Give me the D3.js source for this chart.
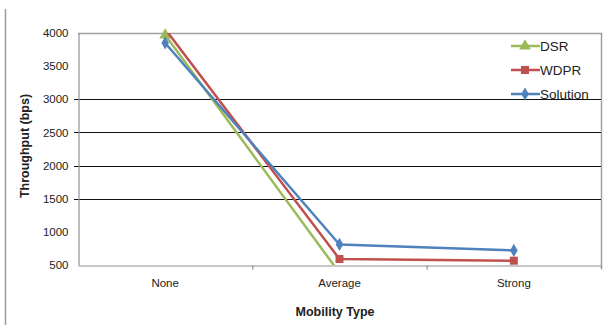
<!DOCTYPE html>
<html>
<head>
<meta charset="utf-8">
<script src="https://cdn.jsdelivr.net/npm/d3@7"></script>
<style>
  html, body { margin: 0; padding: 0; background: #fff; }
  svg { display: block; font-family: "Liberation Sans", Arial, sans-serif; }
</style>
</head>
<body>
<svg id="chart" width="607" height="325"></svg>
<script>
// Throughput per mobility type for three routing protocols
const categories = ["None", "Average", "Strong"];
const seriesNames = ["DSR", "WDPR", "Solution"];
const dsrValues = [3970, 380, 380];
const wdprValues = [4060, 590, 565];
const solutionValues = [3850, 810, 720];
const yTicks = [500, 1000, 1500, 2000, 2500, 3000, 3500, 4000];
const gridValues = [1500, 2000, 2500, 3000];

const seriesColors = ["#9BBB59", "#C0504D", "#4F81BD"];
const seriesSymbols = [d3.symbolTriangle, d3.symbolSquare, d3.symbolDiamond];
const seriesSizes = [60, 64, 50];
const series = [dsrValues, wdprValues, solutionValues].map((values, i) => ({
  name: seriesNames[i], values, color: seriesColors[i],
  symbol: seriesSymbols[i], size: seriesSizes[i]
}));

const svg = d3.select("#chart");
const plot = { left: 78, right: 601, top: 33, bottom: 265 };

const x = d3.scaleBand().domain(categories).range([plot.left, plot.right]);
const y = d3.scaleLinear().domain([500, 4000]).range([plot.bottom, plot.top]);

// outer frame edge on the left
svg.append("line")
  .attr("x1", 5.5).attr("x2", 5.5).attr("y1", 9).attr("y2", 325)
  .attr("stroke", "#9a9a9a").attr("stroke-width", 1.5);

// plot area border (top and right)
svg.append("path")
  .attr("d", `M${plot.left},${plot.top + 0.5}H${plot.right + 0.5}V${plot.bottom + 3}`)
  .attr("fill", "none").attr("stroke", "#a0a0a0").attr("stroke-width", 1.5);

// horizontal grid lines
svg.append("g").selectAll("line").data(gridValues).join("line")
  .attr("x1", plot.left - 4).attr("x2", plot.right)
  .attr("y1", d => Math.round(y(d)) + 0.5).attr("y2", d => Math.round(y(d)) + 0.5)
  .attr("stroke", "#111").attr("stroke-width", 1.2);

// y axis
const yAxis = svg.append("g")
  .attr("transform", `translate(${plot.left + 0.5},0)`)
  .call(d3.axisLeft(y).tickValues(yTicks).tickSize(0).tickPadding(10).tickFormat(d3.format("d")));
yAxis.select(".domain").attr("stroke", "#909090").attr("stroke-width", 1.2);
yAxis.selectAll("text").attr("font-size", 11.5).attr("fill", "#222")
  .attr("font-family", "'Liberation Sans', Arial, sans-serif");

// x axis
const xAxis = svg.append("g")
  .attr("transform", `translate(0,${plot.bottom + 0.5})`)
  .call(d3.axisBottom(x).tickSize(0).tickPadding(13));
xAxis.select(".domain").attr("stroke", "#909090").attr("stroke-width", 1.2);
xAxis.selectAll("text").attr("font-size", 11.5).attr("fill", "#222")
  .attr("font-family", "'Liberation Sans', Arial, sans-serif");
// tick marks between categories
xAxis.append("g").selectAll("line")
  .data(categories.slice(1).map(c => x(c)).concat([plot.right]))
  .join("line")
  .attr("x1", d => d + 0.5).attr("x2", d => d + 0.5)
  .attr("y1", 0).attr("y2", 4)
  .attr("stroke", "#909090").attr("stroke-width", 1.2);

// axis titles
svg.append("text")
  .attr("x", 335).attr("y", 316)
  .attr("text-anchor", "middle").attr("font-size", 12.5).attr("font-weight", "bold")
  .attr("fill", "#222").text("Mobility Type");
svg.append("text")
  .attr("transform", "translate(29,146) rotate(-90)")
  .attr("text-anchor", "middle").attr("font-size", 12.5).attr("font-weight", "bold")
  .attr("fill", "#222").text("Throughput (bps)");

// series lines clipped to the plot area; markers only for in-range values
svg.append("clipPath").attr("id", "plotClip")
  .append("rect")
  .attr("x", plot.left).attr("y", plot.top)
  .attr("width", plot.right - plot.left).attr("height", plot.bottom - plot.top);

const cx = c => x(c) + x.bandwidth() / 2;
const line = d3.line().x((d, i) => cx(categories[i])).y(d => y(d));
const [yMin, yMax] = y.domain();

const seriesG = svg.append("g");
series.forEach(s => {
  const g = seriesG.append("g");
  g.append("path")
    .attr("clip-path", "url(#plotClip)")
    .attr("d", line(s.values))
    .attr("fill", "none").attr("stroke", s.color).attr("stroke-width", 2.5)
    .attr("stroke-linejoin", "round");
  const pts = s.values.map((v, i) => ({ v, c: categories[i] }))
    .filter(p => p.v >= yMin && p.v <= yMax);
  g.selectAll("path.marker").data(pts).join("path")
    .attr("class", "marker")
    .attr("transform", p => `translate(${cx(p.c)},${y(p.v)})`)
    .attr("d", d3.symbol().type(s.symbol).size(s.size))
    .attr("fill", s.color);
});

// legend
const legend = svg.append("g");
series.forEach((s, i) => {
  const ly = 46 + i * 24;
  const g = legend.append("g").attr("transform", `translate(0,${ly})`);
  g.append("line").attr("x1", 511).attr("x2", 540).attr("y1", 0).attr("y2", 0)
    .attr("stroke", s.color).attr("stroke-width", 2.5);
  g.append("path").attr("transform", "translate(525,0)")
    .attr("d", d3.symbol().type(s.symbol).size(s.size)).attr("fill", s.color);
  g.append("text").attr("x", 540).attr("y", 0).attr("dy", "0.35em")
    .attr("font-size", 13.5).attr("fill", "#222").text(s.name);
});
</script>
</body>
</html>
